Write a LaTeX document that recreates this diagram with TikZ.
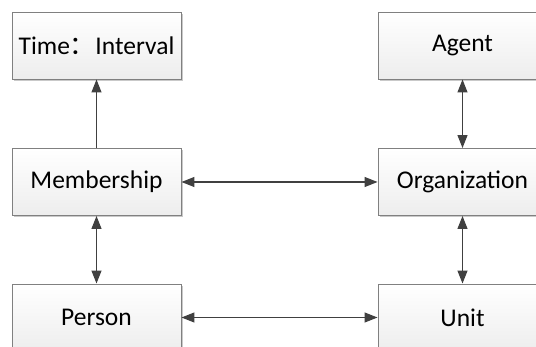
\documentclass[tikz,border=0pt]{standalone}
\usepackage{fontspec}
\setmainfont{Carlito}
\newfontfamily\cjk{Noto Sans CJK SC}
\usetikzlibrary{arrows.meta,shadows}
\definecolor{edgegray}{HTML}{404040}
\definecolor{boxline}{HTML}{808080}
\tikzset{
  box/.style={draw=boxline, line width=0.9pt, rectangle, minimum width=169pt, minimum height=67pt,
    top color=white, bottom color=black!7, inner sep=0pt,
    drop shadow={shadow xshift=2pt, shadow yshift=-2pt, fill=black!35, opacity=0.6},
    font=\fontsize{25.5}{30}\selectfont},
  link/.style={draw=edgegray, line width=1.2pt, {Triangle[length=13pt,width=10pt]}-{Triangle[length=13pt,width=10pt]}},
  uplink/.style={draw=edgegray, line width=1.2pt, -{Triangle[length=13pt,width=10pt]}}
}
\begin{document}
\begin{tikzpicture}[x=1pt,y=-1pt]
\useasboundingbox (0,0) rectangle (536,347);
\clip (0,0) rectangle (536,347);
\fill[white] (0,0) rectangle (536,347);
\node[box] (t) at (96.5,45.5) {Time{\cjk ：}Interval};
\node[box] (m) at (96.5,182) {Membership};
\node[box] (p) at (96.5,317.5) {Person};
\node[box] (a) at (462.5,45.5) {Agent};
\node[box] (o) at (462.5,182) {Organization};
\node[box] (u) at (462.5,317.5) {Unit};
\draw[uplink] (m) -- (t);
\draw[link] (m) -- (p);
\draw[link] (m) -- (o);
\draw[link] (p) -- (u);
\draw[link] (a) -- (o);
\draw[link] (o) -- (u);
\end{tikzpicture}
\end{document}
